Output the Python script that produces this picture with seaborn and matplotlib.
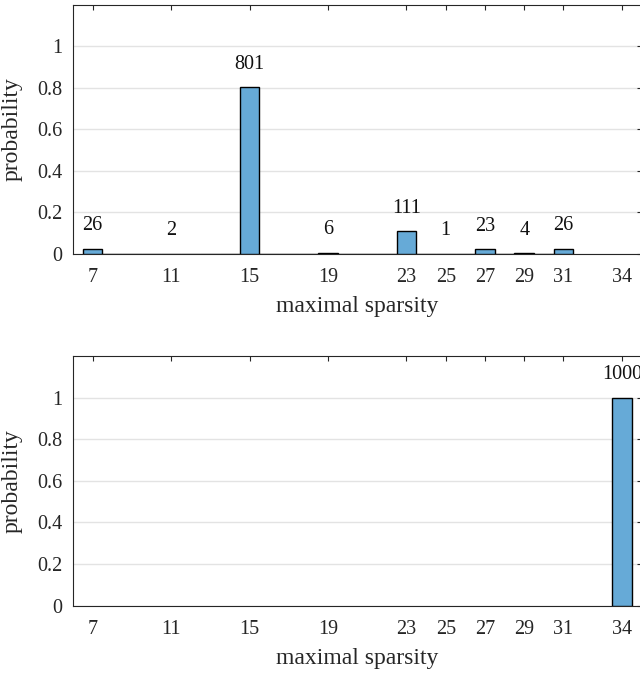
import numpy as np
import matplotlib
matplotlib.use("Agg")
import matplotlib.pyplot as plt
import seaborn as sns

# data: maximal sparsity outcomes over 1000 trials
sparsity_top = [7, 11, 15, 19, 23, 25, 27, 29, 31]
counts_top = [26, 2, 801, 6, 111, 1, 23, 4, 26]

sparsity_bottom = [34]
counts_bottom = [1000]

xticks = [7, 11, 15, 19, 23, 25, 27, 29, 31, 34]
yticks = [0, 0.2, 0.4, 0.6, 0.8, 1]
ytick_labels = ["0", "0.2", "0.4", "0.6", "0.8", "1"]

# style
sns.set_theme(style="white")
plt.rcParams["font.family"] = ["Liberation Serif", "DejaVu Serif"]

bar_color = "#66aad7"
fig = plt.figure(figsize=(6.4, 6.77), dpi=100)

ax1 = fig.add_axes([0.114, 0.6248, 0.889, 0.3685])
ax2 = fig.add_axes([0.114, 0.1053, 0.889, 0.3688])

for ax, xs, cs in [(ax1, sparsity_top, counts_top), (ax2, sparsity_bottom, counts_bottom)]:
    sns.histplot(x=xs, weights=cs, discrete=True, stat="probability",
                 color=bar_color, edgecolor="black", linewidth=1.0, alpha=1.0,
                 ax=ax, zorder=3)
    total = sum(cs)
    for x, c in zip(xs, cs):
        ax.text(x, c / total + 0.11, str(c), ha="center", va="center",
                fontsize=14.5, color="#111111", clip_on=False)

    ax.set_xlim(6, 35)
    ax.set_ylim(0, 1.2)
    ax.set_xticks(xticks)
    ax.set_xticklabels([str(t) for t in xticks])
    ax.set_yticks(yticks)
    ax.set_yticklabels(ytick_labels)
    ax.yaxis.grid(True, color="#e3e3e3", linewidth=1.0, zorder=0)
    ax.xaxis.grid(False)
    ax.set_axisbelow(True)
    ax.tick_params(direction="in", top=True, right=True, length=3.6, width=0.8,
                   labelsize=14.5, colors="#262626")
    ax.tick_params(axis="x", pad=10)
    ax.tick_params(axis="y", pad=7.5)
    for s in ax.spines.values():
        s.set_color("#262626")
        s.set_linewidth(0.8)
    ax.set_xlabel("maximal sparsity", fontsize=17, color="#262626", va="top")
    ax.set_ylabel("probability", fontsize=17, color="#262626")
    ax.xaxis.set_label_coords(0.5, -0.17)
    ax.yaxis.set_label_coords(-0.088, 0.5)

fig.savefig("out.png", dpi=100)
